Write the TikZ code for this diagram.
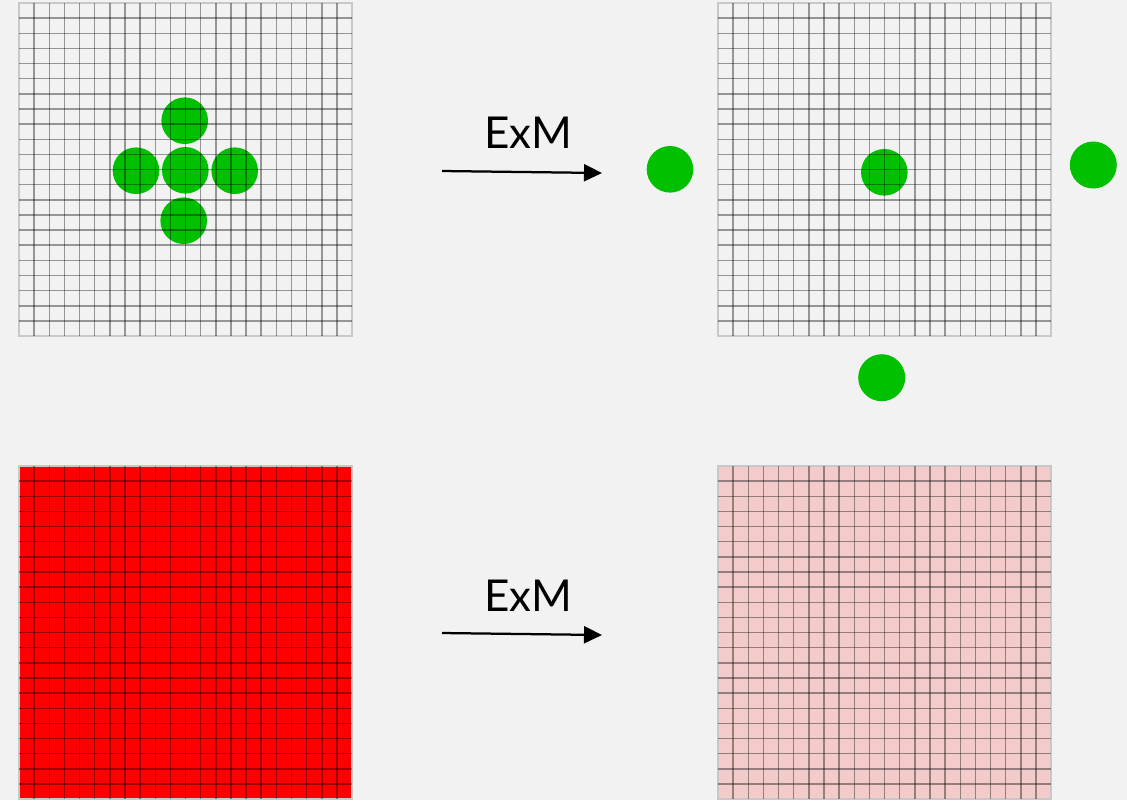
\documentclass[tikz,border=0pt]{standalone}
\usepackage{fontspec}
\setmainfont{Lato}
\usetikzlibrary{arrows.meta}
\definecolor{bgcol}{RGB}{242,242,242}
\definecolor{dotgreen}{RGB}{0,192,0}
\definecolor{cellred}{RGB}{255,0,0}
\definecolor{cellpink}{RGB}{243,203,203}
\definecolor{rimgray}{RGB}{200,200,200}

\begin{document}
\begin{tikzpicture}[x=0.2mm,y=-0.2mm,
    gridline/.style={black,opacity=0.38,line width=0.3mm},
    gridrim/.style={draw=rimgray,line width=0.3mm},
    greendot/.style={fill=dotgreen},
    exmarrow/.style={line width=0.45mm,-{Triangle[length=3.6mm,width=3.4mm]}},
    exmlabel/.style={inner sep=0pt,font=\fontsize{25}{30}\selectfont}]
	% background and page size
	\fill[bgcol] (0,0) rectangle (1127,800);
	% grid fills
	\filldraw[gridrim,fill=bgcol] (19,3) rectangle (352,336);
	\filldraw[gridrim,fill=bgcol] (718,3) rectangle (1051,336);
	\filldraw[gridrim,fill=cellred] (19,466) rectangle (352,799);
	\filldraw[gridrim,fill=cellpink] (718,466) rectangle (1051,799);
	% dots before
	\fill[greendot] (185.3,170.3) circle [radius=23.3];
	\fill[greendot] (184.7,120.7) circle [radius=23.3];
	\fill[greendot] (183.7,220.7) circle [radius=23.3];
	\fill[greendot] (136,170.7) circle [radius=23.3];
	\fill[greendot] (234.7,170.7) circle [radius=23.3];
	% dots after
	\fill[greendot] (884.3,172.3) circle [radius=23.3];
	\fill[greendot] (670,169.3) circle [radius=23.3];
	\fill[greendot] (1093.3,165) circle [radius=23.5];
	\fill[greendot] (881.7,377.7) circle [radius=23.5];
	% grid lines
	\foreach \gx/\gy in {19/3, 718/3, 19/466, 718/466} {
		\foreach \k in {1,...,21} {
			\draw[gridline] (\gx+\k*15.14,\gy) -- ++(0,333);
			\draw[gridline] (\gx,\gy+\k*15.14) -- ++(333,0);
		}
	}
	% arrows
	\coordinate (arrAstart) at (442,171);
	\coordinate (arrAend) at (602,173);
	\coordinate (arrBstart) at (442,633);
	\coordinate (arrBend) at (602,635);
	\draw[exmarrow] (arrAstart) -- (arrAend);
	\draw[exmarrow] (arrBstart) -- (arrBend);
	\node[exmlabel] (lblA) at (528.5,133) {ExM};
	\node[exmlabel] (lblB) at (528.5,596) {ExM};
\end{tikzpicture}
\end{document}
